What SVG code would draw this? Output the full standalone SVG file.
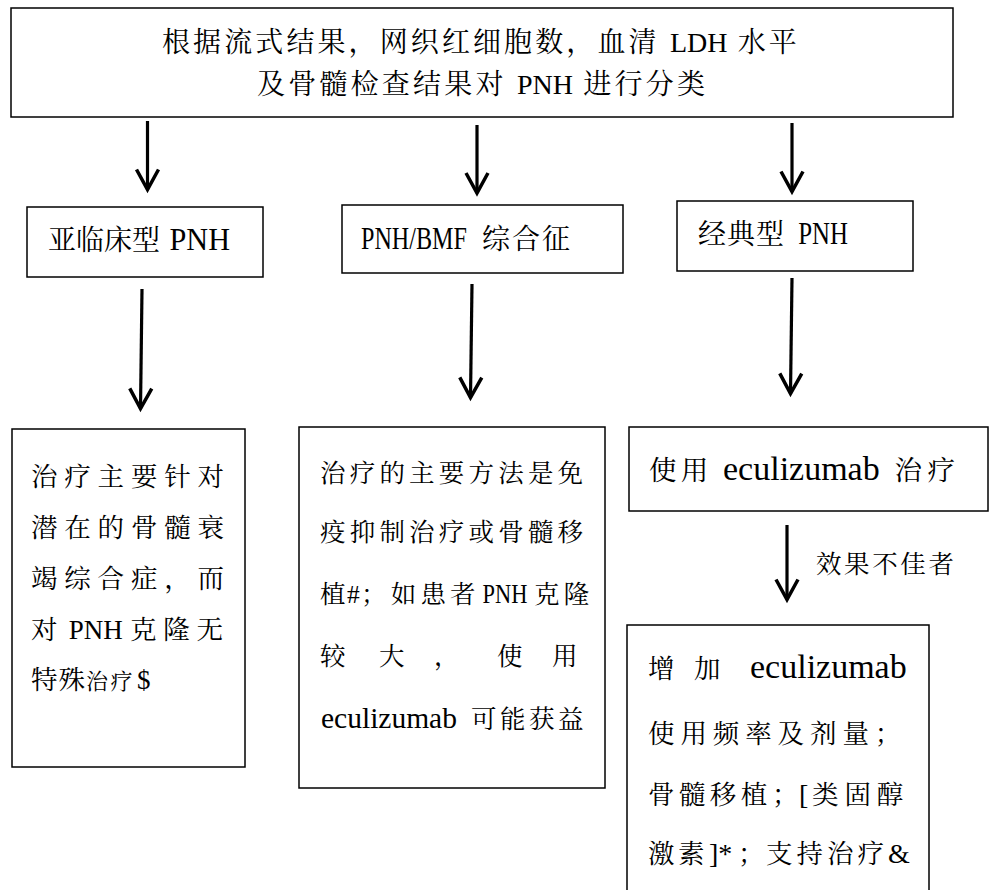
<svg xmlns="http://www.w3.org/2000/svg" width="990" height="890" viewBox="0 0 990 890">
<style>
.b{fill:#fff;stroke:#000;stroke-width:1.5}
.t{font-family:"Noto Serif CJK SC","Noto Sans CJK SC","Liberation Serif",serif;fill:#000}
.l{font-family:"Liberation Serif","Times New Roman",serif}
.c{stroke:#000;stroke-width:3.2;fill:none;marker-end:url(#ah)}
</style>
<defs>
<marker id="ah" viewBox="-24 -14 30 28" markerWidth="30" markerHeight="28" refX="0" refY="0" orient="auto" markerUnits="userSpaceOnUse"><path d="M-20,-11 L0,0 L-20,11" fill="none" stroke="#000" stroke-width="3.5"/></marker>
</defs>
<rect width="990" height="890" fill="#fff"/>
<g id="connectors">
<path class="c" d="M147.5,121 L147.5,189.5"/>
<path class="c" d="M477,125 L477,193"/>
<path class="c" d="M792,123 L792,191.5"/>
<path class="c" d="M142,289 L140.5,408.5"/>
<path class="c" d="M472,284 L470.5,397.5"/>
<path class="c" d="M792,278 L790.5,393.5"/>
<path class="c" d="M787,525 L787,599.5"/>
<text class="t" x="816" y="573" font-size="25.5" letter-spacing="2.6">效果不佳者</text>
</g>
<g id="node-top">
<rect class="b" x="11" y="8" width="942" height="109"/>
<text class="t" x="162" y="52" font-size="28" letter-spacing="3.1">根据流式结果，网织红细胞数，血清 <tspan class="l" letter-spacing="0">LDH</tspan> 水平</text>
<text class="t" x="257" y="94" font-size="28" letter-spacing="3.2">及骨髓检查结果对 <tspan class="l" letter-spacing="0">PNH</tspan> 进行分类</text>
</g>
<g id="node-subclinical">
<rect class="b" x="27" y="207" width="236" height="70"/>
<text class="t" x="48" y="250" font-size="28">亚临床型<tspan class="l" x="162" font-size="32" textLength="68" lengthAdjust="spacingAndGlyphs"> PNH</tspan></text>
</g>
<g id="node-pnhbmf">
<rect class="b" x="342" y="205" width="281" height="68"/>
<text class="t" x="361" y="249" font-size="28"><tspan class="l" font-size="32" textLength="112" lengthAdjust="spacingAndGlyphs">PNH/BMF </tspan><tspan x="482" letter-spacing="2">综合征</tspan></text>
</g>
<g id="node-classic">
<rect class="b" x="677" y="201" width="236" height="70"/>
<text class="t" x="698" y="244" font-size="28" letter-spacing="1">经典型<tspan class="l" x="792" font-size="32" letter-spacing="0" textLength="56" lengthAdjust="spacingAndGlyphs"> PNH</tspan></text>
</g>
<g id="node-treat-subclinical">
<rect class="b" x="12" y="429" width="233" height="338"/>
<g class="t" font-size="26.5" letter-spacing="6.8">
<text x="31" y="486">治疗主要针对</text>
<text x="31" y="537">潜在的骨髓衰</text>
<text x="31" y="588">竭综合症，而</text>
<text x="31" y="639"><tspan letter-spacing="0">对</tspan><tspan class="l" x="62" font-size="27" letter-spacing="0"> PNH </tspan><tspan x="130">克隆无</tspan></text>
<text x="31" y="689"><tspan letter-spacing="1">特殊</tspan><tspan x="86" font-size="22" letter-spacing="2.5">治疗</tspan><tspan class="l" x="137" font-size="27" letter-spacing="0">$</tspan></text>
</g>
</g>
<g id="node-treat-pnhbmf">
<rect class="b" x="299" y="427" width="306" height="361"/>
<g class="t" font-size="25.5" letter-spacing="4.2">
<text x="320" y="482">治疗的主要方法是免</text>
<text x="320" y="541">疫抑制治疗或骨髓移</text>
<text x="320" y="603"><tspan letter-spacing="0">植</tspan><tspan class="l" x="347" letter-spacing="0">#</tspan><tspan x="361">；如患者</tspan><tspan class="l" x="477" font-size="28" letter-spacing="0" textLength="56" lengthAdjust="spacingAndGlyphs"> PNH </tspan><tspan x="534">克隆</tspan></text>
<text x="320" y="665">较 <tspan x="379">大 </tspan><tspan x="434">， </tspan><tspan x="497">使 </tspan><tspan x="552">用</tspan></text>
<text x="321" y="728"><tspan class="l" font-size="29.5" letter-spacing="0">eculizumab</tspan><tspan x="461" letter-spacing="3.5"> 可能获益</tspan></text>
</g>
</g>
<g id="node-classic-treat">
<rect class="b" x="629" y="427" width="359" height="84"/>
<text class="t" x="649" y="480" font-size="27.5" letter-spacing="4.2">使用 <tspan class="l" x="723" font-size="34" letter-spacing="0">eculizumab</tspan><tspan x="882" letter-spacing="5.5"> 治疗</tspan></text>
</g>
<g id="node-escalation">
<rect class="b" x="627" y="625" width="302" height="280"/>
<g class="t" font-size="26.5" letter-spacing="5.9">
<text x="648" y="678">增 <tspan x="694">加 </tspan><tspan class="l" x="750" font-size="34" letter-spacing="0">eculizumab</tspan></text>
<text x="648" y="743">使用频率及剂量；</text>
<text x="648" y="804"><tspan letter-spacing="4.4">骨髓移植</tspan><tspan x="772" letter-spacing="0">；</tspan><tspan class="l" x="799" font-size="28" letter-spacing="0">[</tspan><tspan x="812">类固醇</tspan></text>
<text x="648" y="863"><tspan letter-spacing="3.5">激素</tspan><tspan class="l" x="709" font-size="28" letter-spacing="0">]*</tspan><tspan x="738" letter-spacing="0">；</tspan><tspan x="766" letter-spacing="4">支持治疗</tspan><tspan class="l" x="888" font-size="28" letter-spacing="0">&amp;</tspan></text>
</g>
</g>
</svg>
